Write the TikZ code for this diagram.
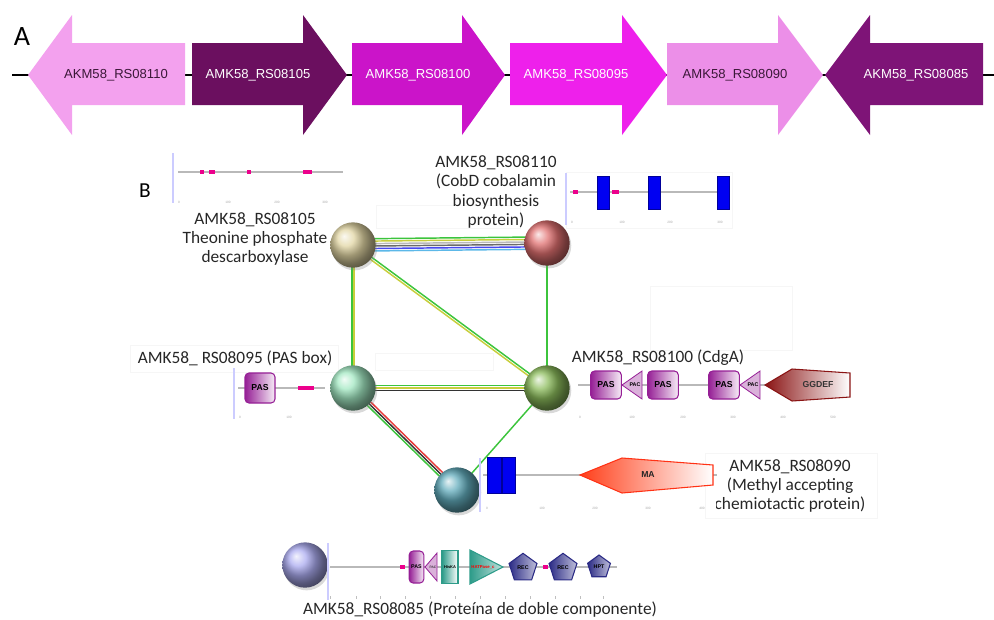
\documentclass[tikz,border=0pt]{standalone}
\usepackage{fontspec}
\setmainfont{Carlito}
\newfontfamily\arialf{Liberation Sans}
\usepackage{tikz}
\usetikzlibrary{calc,shapes.geometric,backgrounds,shadows}
\definecolor{geneA}{HTML}{F3A1EE}
\definecolor{geneB}{HTML}{6B0F5F}
\definecolor{geneC}{HTML}{CB14C9}
\definecolor{geneD}{HTML}{EE20EB}
\definecolor{geneE}{HTML}{EC8FE8}
\definecolor{geneF}{HTML}{7E1477}
\definecolor{genedark}{HTML}{3B1838}
\definecolor{ballA}{HTML}{E2D6A4}
\definecolor{ballB}{HTML}{E07070}
\definecolor{ballC}{HTML}{A2E8C2}
\definecolor{ballD}{HTML}{8CBC5C}
\definecolor{ballE}{HTML}{62ACBC}
\definecolor{ballF}{HTML}{ABABF0}
\definecolor{egreen}{HTML}{3CC43C}
\definecolor{eyellow}{HTML}{C8CE3C}
\definecolor{egray}{HTML}{6A6A6A}
\definecolor{eblack}{HTML}{333333}
\definecolor{eblue}{HTML}{4848F0}
\definecolor{ecyan}{HTML}{5CB8E8}
\definecolor{ered}{HTML}{E83A3A}
\definecolor{paspurple}{HTML}{962096}
\definecolor{recnavy}{HTML}{2B2B85}
\definecolor{histeal}{HTML}{2E9C8A}
\definecolor{ggred}{HTML}{8A1414}
\definecolor{maorange}{HTML}{FF3F1A}

% bundle of parallel evidence lines between two proteins
\newcommand{\bundle}[3]{%
  \foreach \o/\c in {#3}
    \draw[edge, \c] ($(#1)!\o!90:(#2)$) -- ($(#2)!\o!-90:(#1)$);}

\begin{document}
\begin{tikzpicture}[x=0.75pt, y=-0.75pt,
  genetxt/.style={font=\arialf\fontsize{9.8}{11}\selectfont, inner sep=0pt},
  prot/.style={circle, minimum size=34pt, inner sep=0pt, shading=ball,
               drop shadow={shadow xshift=1.2pt, shadow yshift=-2pt, opacity=0.3}},
  plabel/.style={align=center, font=\fontsize{13}{14.3}\selectfont, text=black!85, inner sep=1pt},
  frame/.style={draw=gray!7, line width=0.5pt},
  backbone/.style={draw=gray!55, line width=1.5pt},
  axis/.style={draw=blue!20, line width=1pt},
  motif/.style={fill=magenta},
  tmseg/.style={fill=blue!95!black, draw=blue!60!black, line width=0.3pt},
  domtxt/.style={font=\arialf\bfseries\fontsize{6.5}{7}\selectfont, inner sep=0pt},
  smalltxt/.style={font=\arialf\bfseries\fontsize{4}{5}\selectfont, inner sep=0pt},
  pasdom/.style={draw=paspurple, line width=0.8pt, rounded corners=3pt,
                 left color=paspurple, right color=paspurple!8, inner sep=0pt},
  pacdom/.style={draw=paspurple, line width=0.6pt, fill=paspurple!35},
  recdom/.style={regular polygon, regular polygon sides=5, draw=recnavy, line width=0.8pt,
                 left color=recnavy, right color=recnavy!30, inner sep=0pt},
  tick/.style={font=\arialf\fontsize{2.4}{3}\selectfont, text=gray!70, inner sep=0pt},
  edge/.style={line width=1.1pt}]

\useasboundingbox (0,0) rectangle (994,619);

% ---- A: gene neighbourhood
\node[font=\fontsize{21}{24}\selectfont] (labA) at (22,37) {A};
\draw[line width=1.9pt] (12,75) -- (994,75);
\foreach \a/\b/\c/\col/\lx/\tc/\nm/\txt in {
    185/72/28/geneA/116/genedark/g110/AKM58\_RS08110,
    192/303/347/geneB/258/white/g105/AMK58\_RS08105,
    352/462/505/geneC/418/white/g100/AMK58\_RS08100,
    510/622/667/geneD/576/white/g095/AMK58\_RS08095,
    667/778/823/geneE/735/genedark/g090/AMK58\_RS08090,
    983/870/825/geneF/916/white/g085/AKM58\_RS08085}{
  \fill[\col] (\a,43) -- (\b,43) -- (\b,15) -- (\c,75) -- (\b,135) -- (\b,105) -- (\a,105) -- cycle;
  \node[genetxt, text=\tc] (\nm) at (\lx,75) {\txt};
}

% ---- B: interaction network
\node[font=\fontsize{16}{18}\selectfont] (labB) at (145,191) {B};

\foreach \x/\y/\w/\h in {566/172/166/56, 130/345/208/27, 650/286/142/64,
                         705/453/172/65, 376/205/144/23, 375/353/118/17}
  \draw[frame] (\x,\y) rectangle ++(\w,\h);

\node[prot, ball color=ballA] (p105) at (353,245) {};
\node[prot, ball color=ballB] (p110) at (547,243) {};
\node[prot, ball color=ballC] (p095) at (353,388) {};
\node[prot, ball color=ballD] (p100) at (547,388) {};
\node[prot, ball color=ballE] (p090) at (457,490) {};
\node[prot, ball color=ballF] (p085) at (305,565) {};

\begin{pgfonlayer}{background}
  \bundle{p105}{p110}{4.6pt/egreen, 2.8pt/eyellow, 0.9pt/gray!55, -0.9pt/egray, -2.8pt/eblue, -4.6pt/ecyan}
  \bundle{p105}{p095}{-0.9pt/egreen, 0.9pt/eyellow}
  \bundle{p105}{p100}{0.9pt/egreen, -0.9pt/eyellow}
  \bundle{p110}{p100}{0pt/egreen}
  \bundle{p095}{p100}{1.8pt/egreen, 0pt/eyellow, -1.8pt/eblack}
  \bundle{p095}{p090}{1.8pt/ered, 0pt/eblack, -1.8pt/egreen}
  \bundle{p100}{p090}{0pt/egreen}
\end{pgfonlayer}

\node[plabel] (t105) at (255,239) {AMK58\_RS08105\\Theonine phosphate\\descarboxylase};
\node[plabel] (t110) at (496,192) {AMK58\_RS08110\\(CobD cobalamin\\biosynthesis\\protein)};
\node[plabel] (t095) at (235,358) {AMK58\_ RS08095 (PAS box)};
\node[plabel] (t100) at (658,358) {AMK58\_RS08100 (CdgA)};
\begin{scope}
  \clip (716,450) rectangle (880,520);
  \node[plabel] (t090) at (790,486) {AMK58\_RS08090\\(Methyl accepting\\chemiotactic protein)};
\end{scope}
\node[plabel, anchor=base] (t085) at (480,614) {AMK58\_RS08085 (Proteína de doble componente)};

% domains of RS08105
\draw[axis] (173,153) -- (173,203);
\draw[backbone] (178,172) -- (343,172);
\foreach \x/\w in {200/4, 209/6, 247/4, 303/9}
  \fill[motif] (\x,170) rectangle ++(\w,4);
\foreach \x/\t in {179/0, 228/100, 277/200, 325/300}
  \node[tick] (k105-\t) at (\x,202) {\t};

% domains of RS08110
\draw[axis] (566,173) -- (566,225);
\draw[backbone] (570,192) -- (727,192);
\foreach \x/\w in {573/5, 612/7}
  \fill[motif] (\x,190) rectangle ++(\w,4);
\foreach \x in {597, 648, 717}
  \draw[tmseg] (\x,176) rectangle ++(12,33);
\foreach \x/\t in {572/0, 622/100, 670/200, 720/300}
  \node[tick] (k110-\t) at (\x,222) {\t};

% domains of RS08095
\draw[axis] (234,368) -- (234,419);
\draw[backbone] (238,388) -- (325,388);
\node[pasdom, minimum width=22.5pt, minimum height=22.5pt] (pas095) at (260,388) {};
\node[domtxt] (pas095t) at (260,388) {PAS};
\fill[motif] (298,386) rectangle (314,390);
\foreach \x/\t in {240/0, 289/100}
  \node[tick] (k095-\t) at (\x,417) {\t};

% domains of RS08100
\draw[backbone] (578,385) -- (850,385);
\foreach \x/\n in {606/a, 663/b, 724/c}{
  \node[pasdom, minimum width=23pt, minimum height=21pt] (pas100\n) at (\x,385) {};
  \node[domtxt] at (pas100\n) {PAS};
}
\foreach \x/\n in {622/a, 740/c}{
  \draw[pacdom] (\x,385) -- (\x+20,371) -- (\x+20,399) -- cycle;
  \node[smalltxt] (pac100\n) at (\x+13,385) {PAC};
}
\path[draw=ggred, line width=0.8pt, left color=ggred, right color=white]
  (765,385) -- (792,369) -- (850,373) -- (850,397) -- (792,401) -- cycle;
\node[domtxt, text=black!80] (gg100) at (818,385) {GGDEF};
\foreach \x/\t in {580/0, 632/100, 683/200, 733/300, 783/400, 833/500}
  \node[tick] (k100-\t) at (\x,417) {\t};

% domains of RS08090
\draw[axis] (480,458) -- (480,512);
\draw[backbone] (483,475) -- (717,475);
\draw[tmseg] (487,457) rectangle (501,493);
\draw[tmseg] (502,457) rectangle (515,493);
\path[draw=maorange!80!red, line width=0.8pt, left color=maorange, right color=white]
  (580,475) -- (622,458) -- (713,465) -- (713,485) -- (622,493) -- cycle;
\node[domtxt, text=black!85] (ma090) at (648,475) {MA};
\foreach \x/\t in {487/0, 542/100, 595/200, 648/300, 702/400}
  \node[tick] (k090-\t) at (\x,508) {\t};

% domains of RS08085
\draw[axis] (328,543) -- (328,600);
\draw[backbone] (330,567) -- (617,567);
\fill[motif] (400,565) rectangle (405,569);
\fill[motif] (543,565) rectangle (548,569);
\node[pasdom, minimum width=11pt, minimum height=24pt] (pas085) at (416.5,567) {};
\node[smalltxt] at (pas085) {PAS};
\draw[pacdom] (425,567) -- (437,553) -- (437,581) -- cycle;
\node[font=\arialf\fontsize{2.5}{3}\selectfont, inner sep=0pt] (pac085) at (433,567) {PAC};
\node[draw=histeal, line width=0.8pt, left color=histeal, right color=white,
      minimum width=12pt, minimum height=25pt, inner sep=0pt] (his085) at (450,567) {};
\node[font=\arialf\bfseries\fontsize{3}{4}\selectfont, inner sep=0pt] at (his085) {HisKA};
\path[draw=histeal, line width=0.8pt, left color=histeal, right color=histeal!30]
  (470,550) -- (503,567) -- (470,584) -- cycle;
\node[font=\arialf\bfseries\fontsize{3.2}{4}\selectfont, text=red, inner sep=0pt] (hat085) at (483,567) {HATPase\_c};
\node[recdom, minimum size=22pt] (rec085a) at (523,568) {};
\node[smalltxt] at (rec085a) {REC};
\node[recdom, minimum size=22pt] (rec085b) at (563,568) {};
\node[smalltxt] at (rec085b) {REC};
\node[recdom, minimum size=18pt] (hpt085) at (599,567) {};
\node[smalltxt] at (hpt085) {HPT};
\foreach \x in {330,356,380,405,430,455,480,505,530,555,580,603}
  \draw[gray!50, line width=0.4pt] (\x,596) -- (\x,599);

\end{tikzpicture}
\end{document}
